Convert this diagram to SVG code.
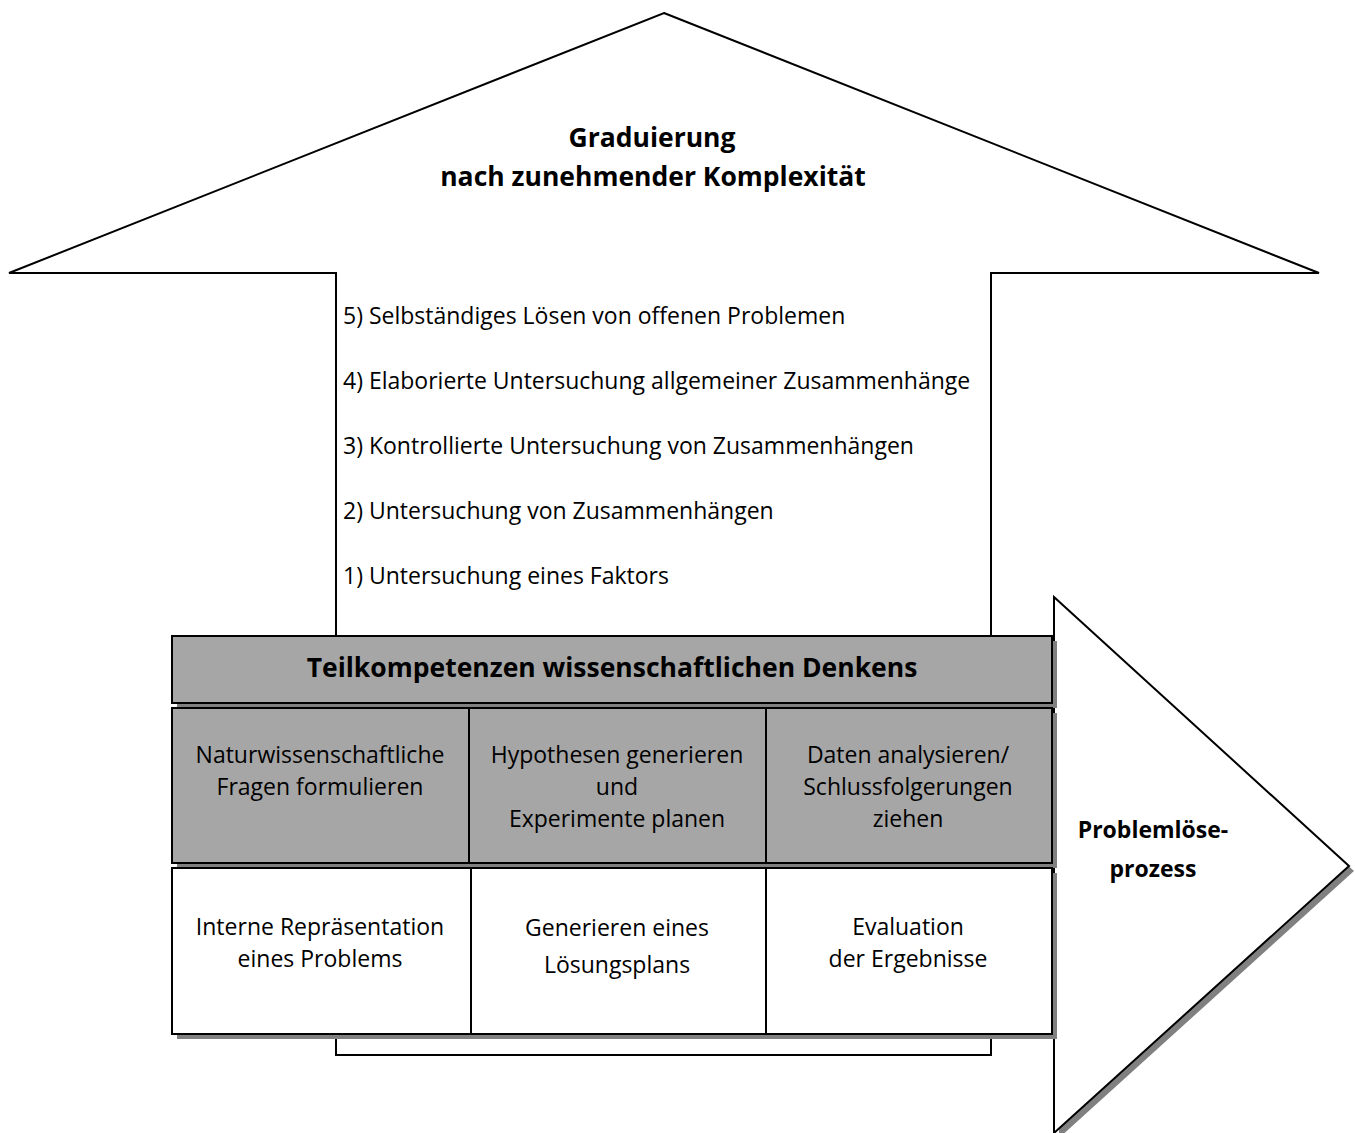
<svg xmlns="http://www.w3.org/2000/svg" width="1355" height="1133" viewBox="0 0 1355 1133">
<style>
text{font-family:"Open Sans","Liberation Sans",sans-serif;fill:#000}
.t{font-size:23px}
.h{font-size:26.5px;font-weight:bold}
.p{font-size:23px;font-weight:bold}
.c{text-anchor:middle}
.w{fill:#fff;stroke:#000;stroke-width:2}
.g{fill:#a6a6a6;stroke:#000;stroke-width:2}
.sh{fill:#808080}
</style>
<rect width="1355" height="1133" fill="#fff"/>
<g id="up-arrow">
<polygon points="664,13 1319,273 991,273 991,1055 336,1055 336,273 9,273" class="w"/>
<text class="c h" x="652" y="147">Graduierung</text>
<text class="c h" x="653" y="186">nach zunehmender Komplexität</text>
</g>
<g id="levels">
<text class="t" x="343" y="324">5) Selbständiges Lösen von offenen Problemen</text>
<text class="t" x="343" y="389">4) Elaborierte Untersuchung allgemeiner Zusammenhänge</text>
<text class="t" x="343" y="454">3) Kontrollierte Untersuchung von Zusammenhängen</text>
<text class="t" x="343" y="519">2) Untersuchung von Zusammenhängen</text>
<text class="t" x="343" y="584">1) Untersuchung eines Faktors</text>
</g>
<g id="right-arrow">
<polygon points="1059,602 1354,871 1059,1138" class="sh"/>
<polygon points="1054,597 1349,866 1054,1133" class="w"/>
<text class="c p" x="1153" y="838">Problemlöse-</text>
<text class="c p" x="1153" y="877">prozess</text>
</g>
<g id="header">
<rect x="177" y="641" width="880" height="67" class="sh"/>
<rect x="172" y="636" width="880" height="67" class="g"/>
<text class="c h" x="612" y="677">Teilkompetenzen wissenschaftlichen Denkens</text>
</g>
<g id="cell-fragen">
<rect x="177" y="713" width="297" height="155" class="sh"/>
<rect x="172" y="708" width="297" height="155" class="g"/>
<text class="t c" x="320" y="763">Naturwissenschaftliche</text>
<text class="t c" x="320" y="795">Fragen formulieren</text>
</g>
<g id="cell-hypothesen">
<rect x="474" y="713" width="297" height="155" class="sh"/>
<rect x="469" y="708" width="297" height="155" class="g"/>
<text class="t c" x="617" y="763">Hypothesen generieren</text>
<text class="t c" x="617" y="795">und</text>
<text class="t c" x="617" y="827">Experimente planen</text>
</g>
<g id="cell-daten">
<rect x="771" y="713" width="286" height="155" class="sh"/>
<rect x="766" y="708" width="286" height="155" class="g"/>
<text class="t c" x="908" y="763">Daten analysieren/</text>
<text class="t c" x="908" y="795">Schlussfolgerungen</text>
<text class="t c" x="908" y="827">ziehen</text>
</g>
<g id="cell-repraesentation">
<rect x="177" y="873" width="299" height="166" class="sh"/>
<rect x="172" y="868" width="299" height="166" class="w"/>
<text class="t c" x="320" y="935">Interne Repräsentation</text>
<text class="t c" x="320" y="967">eines Problems</text>
</g>
<g id="cell-loesungsplan">
<rect x="476" y="873" width="295" height="166" class="sh"/>
<rect x="471" y="868" width="295" height="166" class="w"/>
<text class="t c" x="617" y="936">Generieren eines</text>
<text class="t c" x="617" y="973">Lösungsplans</text>
</g>
<g id="cell-evaluation">
<rect x="771" y="873" width="286" height="166" class="sh"/>
<rect x="766" y="868" width="286" height="166" class="w"/>
<text class="t c" x="908" y="935">Evaluation</text>
<text class="t c" x="908" y="967">der Ergebnisse</text>
</g>
<g id="connectors"></g>
</svg>
